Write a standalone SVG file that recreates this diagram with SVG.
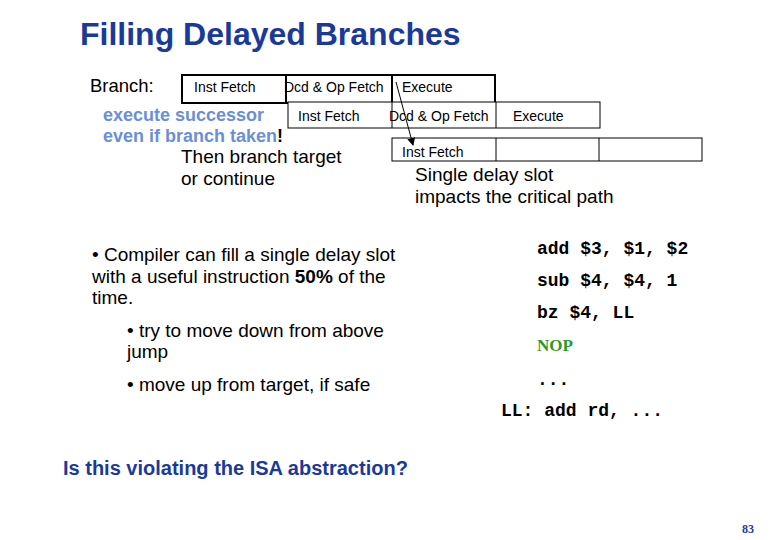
<svg xmlns="http://www.w3.org/2000/svg" width="780" height="540" viewBox="0 0 780 540">
<style>
text{font-family:"Liberation Sans",Arial,sans-serif;fill:#000}
.box{fill:#fff;stroke:#000}
.cell{font-size:14px}
.b{font-size:19px}
.m{font-family:"Liberation Mono","Courier New",monospace;font-size:18px;font-weight:bold}
</style>
<defs><marker id="ah" markerWidth="8" markerHeight="8" refX="7" refY="4" orient="auto"><path d="M0,0L8,4L0,8z" fill="#000"/></marker></defs>
<rect width="780" height="540" fill="#fff"/>
<text x="80" y="45" font-size="32" font-weight="bold" style="fill:#1a3a9a">Filling Delayed Branches</text>
<text x="90" y="92" font-size="18.5">Branch:</text>
<g id="row1">
<rect class="box" x="182" y="75" width="313" height="28" stroke-width="2"/>
<line x1="286" y1="75" x2="286" y2="103" stroke="#000" stroke-width="2"/>
<line x1="392" y1="75" x2="392" y2="103" stroke="#000" stroke-width="2"/>
<text class="cell" x="194" y="92">Inst Fetch</text>
<text class="cell" x="284" y="92">Dcd &amp; Op Fetch</text>
<text class="cell" x="402" y="92">Execute</text>
</g>
<g id="row2">
<rect class="box" x="288" y="102" width="312" height="26"/>
<line x1="392" y1="102" x2="392" y2="128" stroke="#000"/>
<line x1="496" y1="102" x2="496" y2="128" stroke="#000"/>
<text class="cell" x="298" y="121">Inst Fetch</text>
<text class="cell" x="389" y="121">Dcd &amp; Op Fetch</text>
<text class="cell" x="513" y="121">Execute</text>
</g>
<g id="row3">
<rect class="box" x="392" y="138" width="310" height="23"/>
<line x1="496" y1="138" x2="496" y2="161" stroke="#000"/>
<line x1="599" y1="138" x2="599" y2="161" stroke="#000"/>
<text class="cell" x="402" y="157">Inst Fetch</text>
</g>
<g id="connectors">
<line x1="396" y1="82" x2="413" y2="145" stroke="#000" marker-end="url(#ah)"/>
</g>
<text class="b" x="103" y="121" font-size="18" font-weight="bold" style="fill:#6a8fd8;font-size:18px">execute successor</text>
<text class="b" x="103" y="142" font-weight="bold" style="font-size:18px"><tspan style="fill:#6a8fd8">even if branch taken</tspan>!</text>
<text class="b" x="181" y="163">Then branch target</text>
<text class="b" x="181" y="185">or continue</text>
<text class="b" x="415" y="181">Single delay slot</text>
<text class="b" x="415" y="203">impacts the critical path</text>
<text class="b" x="92" y="261">• Compiler can fill a single delay slot</text>
<text class="b" x="92" y="283">with a useful instruction <tspan font-weight="bold">50%</tspan> of the</text>
<text class="b" x="92" y="304">time.</text>
<text class="b" x="127" y="337">• try to move down from above</text>
<text class="b" x="127" y="358">jump</text>
<text class="b" x="127" y="391">• move up from target, if safe</text>
<text class="m" x="537" y="254">add $3, $1, $2</text>
<text class="m" x="537" y="286">sub $4, $4, 1</text>
<text class="m" x="537" y="318">bz $4, LL</text>
<text x="537" y="351" font-size="17" font-weight="bold" style="font-family:'Liberation Serif',serif;fill:#2a9a2a">NOP</text>
<text class="m" x="537" y="385">...</text>
<text class="m" x="501" y="416">LL: add rd, ...</text>
<text x="63" y="475" font-size="20" font-weight="bold" style="fill:#1a3a9a">Is this violating the ISA abstraction?</text>
<text x="742" y="533" font-size="12" font-weight="bold" style="font-family:'Liberation Serif',serif;fill:#1a3a9a">83</text>
</svg>
